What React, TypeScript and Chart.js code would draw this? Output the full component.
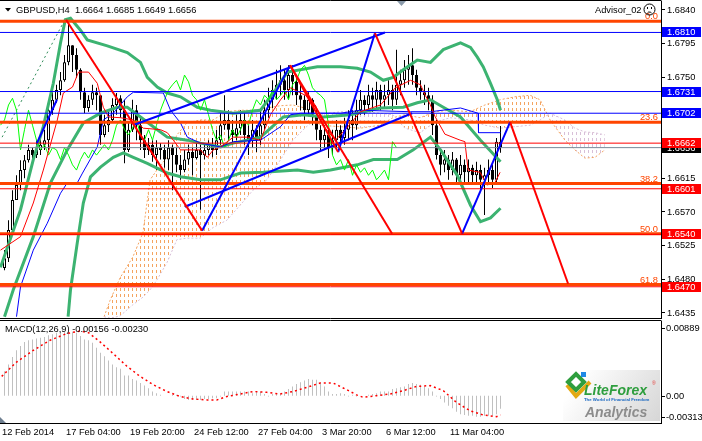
import React, { useEffect, useRef } from "react";
import { Chart, registerables } from "chart.js";

Chart.register(...registerables);

const FONT_FAMILY = '"Liberation Sans", Arial, Helvetica, sans-serif';
const FONT_SIZE = 9.3;
const FONT = `${FONT_SIZE}px ${FONT_FAMILY}`;

// ---------------- H4 candles (bar 0 = 12 Feb 2014) ----------------
const firstOpen = 1.6495;
const closes = [
  1.6508, 1.6546, 1.6586, 1.6606, 1.6626, 1.6639, 1.6653, 1.6646, 1.6653, 1.666,
  1.6666, 1.6706, 1.672, 1.6733, 1.6746, 1.677, 1.6793, 1.678, 1.676, 1.673,
  1.6709, 1.672, 1.673, 1.6726, 1.6673, 1.6686, 1.6693, 1.6713, 1.6722, 1.6706,
  1.6653, 1.668, 1.6706, 1.6686, 1.6666, 1.6653, 1.666, 1.6646, 1.6656, 1.6653,
  1.664, 1.6656, 1.6646, 1.6633, 1.6626, 1.664, 1.665, 1.6642, 1.6653, 1.6646,
  1.6653, 1.666, 1.6653, 1.6666, 1.6686, 1.6693, 1.668, 1.6673, 1.6682, 1.6693,
  1.6673, 1.6666, 1.668, 1.6666, 1.6686, 1.6706, 1.672, 1.6733, 1.674, 1.6746,
  1.6733, 1.6753, 1.6744, 1.6726, 1.672, 1.6706, 1.672, 1.67, 1.668, 1.6666,
  1.6673, 1.6656, 1.6666, 1.668, 1.6669, 1.668, 1.6693, 1.6686, 1.6706, 1.672,
  1.6713, 1.6726, 1.672, 1.6733, 1.672, 1.6726, 1.6733, 1.672, 1.674, 1.6746,
  1.676, 1.6766, 1.6753, 1.6736, 1.673, 1.6726, 1.672, 1.6686, 1.6646, 1.6633,
  1.664, 1.6626, 1.664, 1.6619, 1.6633, 1.6623, 1.6629, 1.6619, 1.6626, 1.6613,
  1.6619, 1.6626, 1.6613, 1.6664, 1.6656,
];
const highs = [
  1.6519, 1.6559, 1.6599, 1.6619, 1.6639, 1.6646, 1.666, 1.6656, 1.6666, 1.6669,
  1.668, 1.6713, 1.673, 1.674, 1.6757, 1.678, 1.6823, 1.6793, 1.6789, 1.6762,
  1.6736, 1.6726, 1.674, 1.6736, 1.6726, 1.67, 1.6704, 1.6722, 1.6729, 1.6726,
  1.672, 1.669, 1.672, 1.6713, 1.6696, 1.6673, 1.6669, 1.6666, 1.6666, 1.6662,
  1.666, 1.6666, 1.666, 1.6656, 1.6646, 1.6653, 1.666, 1.6656, 1.6664, 1.666,
  1.6662, 1.6666, 1.6669, 1.668, 1.6706, 1.6726, 1.6706, 1.6693, 1.67, 1.6706,
  1.6704, 1.6686, 1.6693, 1.6686, 1.6706, 1.672, 1.6736, 1.6746, 1.676, 1.6766,
  1.676, 1.6766, 1.6766, 1.6749, 1.674, 1.6726, 1.673, 1.6722, 1.6709, 1.6686,
  1.6686, 1.668, 1.668, 1.6693, 1.6686, 1.6696, 1.6706, 1.6706, 1.672, 1.6733,
  1.6726, 1.674, 1.6736, 1.6744, 1.674, 1.674, 1.6746, 1.674, 1.6787, 1.676,
  1.6773, 1.678, 1.6789, 1.676, 1.6746, 1.674, 1.6736, 1.6726, 1.6693, 1.6653,
  1.6653, 1.6646, 1.665, 1.6642, 1.6646, 1.664, 1.664, 1.6633, 1.6637, 1.6633,
  1.6629, 1.664, 1.6633, 1.6669, 1.6685,
];
const lows = [
  1.6492, 1.6503, 1.654, 1.6586, 1.6599, 1.6615, 1.6636, 1.6637, 1.6642, 1.6646,
  1.6653, 1.6653, 1.67, 1.6716, 1.6726, 1.6744, 1.6766, 1.6757, 1.6749, 1.672,
  1.6702, 1.6704, 1.6713, 1.6706, 1.666, 1.667, 1.6677, 1.669, 1.67, 1.6696,
  1.6635, 1.665, 1.6677, 1.6666, 1.6653, 1.6642, 1.6646, 1.6637, 1.6626, 1.664,
  1.6629, 1.6626, 1.6599, 1.6623, 1.6613, 1.6623, 1.6633, 1.6619, 1.664, 1.6573,
  1.664, 1.6646, 1.6643, 1.6646, 1.666, 1.668, 1.6666, 1.666, 1.6666, 1.6673,
  1.666, 1.6646, 1.6656, 1.665, 1.666, 1.668, 1.6696, 1.6709, 1.672, 1.6726,
  1.672, 1.672, 1.6726, 1.6713, 1.6706, 1.6693, 1.67, 1.6686, 1.6666, 1.6653,
  1.6653, 1.6642, 1.6646, 1.6653, 1.6653, 1.666, 1.6666, 1.6666, 1.668, 1.67,
  1.67, 1.6706, 1.6704, 1.6709, 1.6706, 1.6709, 1.6713, 1.6706, 1.6713, 1.6726,
  1.6736, 1.674, 1.674, 1.6726, 1.672, 1.6713, 1.6706, 1.6673, 1.664, 1.6619,
  1.6623, 1.6613, 1.6619, 1.661, 1.6613, 1.6606, 1.661, 1.6606, 1.661, 1.6599,
  1.6566, 1.6606, 1.6602, 1.6608, 1.6649,
];

// ---------------- axes ----------------
const priceTicks = [1.6435, 1.648, 1.6525, 1.657, 1.6615, 1.666, 1.6705, 1.675, 1.6795, 1.684];
const dateLabels = ["12 Feb 2014", "17 Feb 04:00", "19 Feb 20:00", "24 Feb 12:00", "27 Feb 04:00", "3 Mar 20:00", "6 Mar 12:00", "11 Mar 04:00"];
const dateLabelBars = [0, 16, 32, 48, 64, 80, 96, 112];

// ---------------- horizontal levels ----------------
const fibRatios = ["0.0", "23.6", "38.2", "50.0", "61.8"];
const fibPrices = [1.6825, 1.669, 1.6608, 1.6541, 1.6473];
const blueLevels = [1.681, 1.6731, 1.6702];
const redLevels = [1.6662, 1.6601, 1.654, 1.647];
const bidPrice = 1.6656;

// ---------------- Bollinger bands [bar, price] ----------------
const bbUpper = [
  [-1, 1.6496], [4, 1.6573], [7.2, 1.664], [9.7, 1.6684], [12.2, 1.6742], [14, 1.6796], [15.2, 1.6827],
  [16.5, 1.6829], [19, 1.6813], [20.7, 1.68], [25.7, 1.6792], [30.7, 1.6783], [34, 1.677], [35.7, 1.675],
  [38.2, 1.6737], [40.7, 1.6729], [44, 1.6724], [48.2, 1.671], [51.5, 1.6706], [57.2, 1.6702], [64, 1.6706],
  [67.7, 1.6733], [70.7, 1.6757], [78.2, 1.6764], [84, 1.6764], [88.2, 1.6762], [91.5, 1.6757], [94.7, 1.6746],
  [97.2, 1.675], [99.7, 1.676], [103.2, 1.6773], [106.5, 1.677], [109.7, 1.6787], [114, 1.6796], [116.5, 1.679],
  [118.2, 1.6777], [119.7, 1.6764], [121.5, 1.6742], [123.2, 1.672], [124, 1.6706],
];
const bbMiddle = [
  [0, 1.643], [2.2, 1.6466], [7.2, 1.6537], [11.5, 1.6609], [15.7, 1.6653], [19.7, 1.6689], [24, 1.6702],
  [28.2, 1.671], [30.7, 1.671], [34, 1.6697], [37.2, 1.6684], [40.7, 1.667], [45.7, 1.6666], [49, 1.6662],
  [54, 1.6657], [57.2, 1.6662], [64, 1.667], [69.7, 1.6697], [74.7, 1.67], [79.7, 1.6697], [86.5, 1.67],
  [94, 1.6709], [99.7, 1.671], [103.2, 1.6716], [106.5, 1.672], [109.7, 1.671], [114, 1.6697], [119, 1.6666],
  [124, 1.6637],
];
const bbLower = [
  [15.9, 1.643], [16.5, 1.6466], [18.2, 1.6529], [19.7, 1.6582], [21.5, 1.6617], [24, 1.663], [27.2, 1.6643],
  [29.7, 1.6649], [32.2, 1.6643], [35.7, 1.6635], [40.7, 1.6622], [44, 1.6617], [49, 1.6613], [54, 1.6613],
  [59, 1.6622], [64.7, 1.6623], [73.2, 1.6626], [77.2, 1.6623], [81.5, 1.6626], [88.2, 1.6633], [92.2, 1.664],
  [98.2, 1.664], [102.2, 1.6653], [106.5, 1.667], [109, 1.6653], [113.2, 1.6619], [116.5, 1.6579], [119, 1.6557],
  [121.5, 1.6562], [124, 1.6575],
];

// ---------------- Ichimoku [bar, price] ----------------
const tenkan = [
  [-1, 1.6519], [4, 1.6537], [7.2, 1.6582], [9.7, 1.6626], [13.2, 1.6693], [14.7, 1.6729], [17, 1.6737],
  [18.5, 1.6757], [21, 1.6757], [23.2, 1.6742], [24.7, 1.671], [26, 1.6697], [29, 1.6696], [32.2, 1.6693],
  [34.7, 1.6682], [39, 1.668], [40.7, 1.6676], [42.2, 1.6666], [44, 1.6653], [49, 1.6653], [50.7, 1.6643],
  [52.2, 1.6653], [54, 1.6657], [57.2, 1.667], [60.7, 1.667], [64, 1.6666], [66.5, 1.67], [69, 1.672],
  [71.5, 1.6736], [75.2, 1.6726], [77.7, 1.6713], [80.2, 1.6682], [82.7, 1.6666], [85.2, 1.668], [89, 1.6704],
  [94, 1.6713], [97.7, 1.6736], [101.5, 1.6746], [104, 1.674], [105.2, 1.6726], [106.4, 1.6714], [107.6, 1.6698],
  [110.1, 1.6674], [113.9, 1.6666], [115.1, 1.6664], [115.9, 1.6626], [118.9, 1.6623], [120.6, 1.6606],
  [122.6, 1.6609], [123.9, 1.6623],
];
const kijun = [
  [3, 1.643], [4, 1.647], [7.2, 1.6519], [10.7, 1.6555], [14, 1.6595], [15.7, 1.6609], [18.2, 1.6609],
  [19.5, 1.6622], [23.2, 1.6657], [24.7, 1.6693], [27.2, 1.6702], [30.7, 1.6724], [32.2, 1.673], [39.7, 1.6729],
  [41.5, 1.6706], [44, 1.6689], [45.7, 1.667], [49, 1.6662], [54, 1.6657], [57.2, 1.6664], [64, 1.6666],
  [69, 1.6684], [71.5, 1.67], [74, 1.6702], [84, 1.6702], [89, 1.6706], [101.5, 1.6704], [106.5, 1.6704],
  [114, 1.6709], [118.4, 1.6702], [118.5, 1.6676], [124, 1.6676],
];
const chikouShift = 26;
const senkouA = [
  [24.9, 1.643], [26.4, 1.6452], [28.9, 1.6482], [32.1, 1.651], [34.6, 1.6542], [36.4, 1.6613], [38.1, 1.6626],
  [40.6, 1.6643], [43.1, 1.6673], [45.6, 1.6689], [48.9, 1.6693], [52.1, 1.6693], [55.6, 1.6704], [58.9, 1.6706],
  [62.1, 1.6706], [65.6, 1.6709], [68.9, 1.6712], [72.1, 1.6713], [75.1, 1.6709], [78.9, 1.6686], [83.9, 1.6684],
  [88.9, 1.6682], [93.9, 1.6686], [97.1, 1.6696], [100.1, 1.67], [103.9, 1.6696], [107.6, 1.6704], [111.4, 1.6706],
  [116.4, 1.6704], [120.1, 1.6713], [123.9, 1.672], [127.6, 1.6724], [131.4, 1.6726], [133.9, 1.672],
  [136.4, 1.6693], [140.1, 1.6666], [142.6, 1.6653], [145.1, 1.6642], [147.6, 1.6643], [150.1, 1.6653],
];
const senkouB = [
  [24.9, 1.643], [26.4, 1.6428], [28.9, 1.6431], [32.1, 1.6446], [34.6, 1.6456], [36.4, 1.6466], [38.1, 1.6479],
  [40.6, 1.6502], [43.1, 1.6533], [45.6, 1.6535], [48.9, 1.6535], [52.1, 1.6549], [55.6, 1.6559], [58.9, 1.6579],
  [62.1, 1.6599], [65.6, 1.6613], [68.9, 1.6639], [72.1, 1.6666], [75.1, 1.6682], [78.9, 1.67], [83.9, 1.6704],
  [88.9, 1.6704], [93.9, 1.6702], [97.1, 1.67], [100.1, 1.6682], [103.9, 1.6676], [107.6, 1.669], [111.4, 1.6696],
  [116.4, 1.6693], [120.1, 1.6686], [123.9, 1.6682], [127.6, 1.6684], [131.4, 1.6686], [133.9, 1.6693],
  [136.4, 1.6702], [140.1, 1.6693], [142.6, 1.6682], [145.1, 1.6677], [147.6, 1.6676], [150.1, 1.6673],
];

// ---------------- drawn objects [bar, price] ----------------
const redTrendLines = [
  [[15.4, 1.6827], [49.4, 1.6545]],
  [[71.4, 1.6766], [83.4, 1.665]],
  [[71.4, 1.6766], [96.9, 1.6541]],
  [[92.6, 1.6809], [114.4, 1.6541]],
  [[126.4, 1.669], [140.9, 1.6474]],
];
const blueTrendLines = [
  [[49.4, 1.6545], [71.4, 1.6766]],
  [[83.4, 1.665], [92.6, 1.6809]],
  [[114.4, 1.6541], [126.4, 1.669]],
  [[32.1, 1.6686], [95.1, 1.681]],
  [[45.1, 1.6577], [101.9, 1.6702]],
  [[8.1, 1.6662], [13.1, 1.672]],
];
const dottedTrend = [[-0.6, 1.667], [15.1, 1.6827]];

// ---------------- MACD(12,26,9) ----------------
const macdHist = [
  0.0029, 0.0037, 0.0046, 0.0054, 0.0059, 0.0064, 0.0066, 0.0067, 0.0068, 0.0069,
  0.007, 0.0072, 0.0073, 0.0075, 0.0076, 0.0076, 0.0076, 0.0076, 0.0075, 0.0071,
  0.0067, 0.0066, 0.0063, 0.0057, 0.0051, 0.0047, 0.0042, 0.0037, 0.0034, 0.0032,
  0.0024, 0.0024, 0.002, 0.0018, 0.0015, 0.0012, 0.0009, 0.0005, 0.0003, 0.0001,
  0, 0, 0.0001, 0.0001, -0.0001, -0.0004, -0.0005, -0.0005, -0.0005, -0.0005,
  -0.0004, -0.0004, -0.0003, -0.0003, -0.0001, 0.0005, 0.0005, 0.0005, 0.0005, 0.0005,
  0.0005, 0.0005, 0.0003, 0.0005, 0.0005, 0.0002, -0.0001, 0.0002, 0.0003, 0.0003,
  0.0005, 0.0008, 0.0011, 0.0014, 0.0016, 0.0018, 0.002, 0.0019, 0.0019, 0.0016,
  0.0011, 0.0005, 0.0002, 0.0002, 0.0003, 0.0002, -0.0001, 0.0001, -0.0001, 0,
  0, 0.0001, 0.0002, 0.0003, 0.0005, 0.0005, 0.0005, 0.0008, 0.0009, 0.001,
  0.0011, 0.0014, 0.0015, 0.0014, 0.0013, 0.0011, 0.0009, 0.0005, -0.0001, -0.0004,
  -0.0008, -0.0012, -0.0015, -0.0019, -0.0022, -0.0023, -0.0024, -0.0024, -0.0025, -0.0025,
  -0.0024, -0.0024, -0.0024, -0.0022, -0.00156,
];
const macdSignal = [
  [-0.7, 0.0023], [3, 0.004], [7.2, 0.0054], [11.4, 0.0066], [15.6, 0.0074], [18.9, 0.0077], [21, 0.0075],
  [23.9, 0.0064], [27.2, 0.005], [30.6, 0.0035], [33.9, 0.0023], [37.2, 0.0013], [40.6, 0.0005], [43.9, -0.0001],
  [47.2, -0.0004], [50.6, -0.0005], [53.1, -0.0005], [55.6, -0.0001], [58.9, 0.0002], [62.2, 0.0005],
  [65.6, 0.0004], [68.9, 0.0002], [72.2, 0.0005], [75.6, 0.001], [78.9, 0.0015], [82.2, 0.0015], [85.6, 0.0007],
  [88, 0.0001], [89.7, -0.0002], [93, 0], [96.4, 0.0002], [99.7, 0.0006], [103, 0.0011], [106.4, 0.0012],
  [109.7, 0.0006], [113, -0.0008], [116.4, -0.0018], [119.7, -0.0023], [123, -0.0025], [124, -0.0023],
];
const macdAxisLabels = ["0.00889", "0.00", "-0.00313"];
const macdAxisValues = [0.00889, 0, -0.00313];

// ---------------- visible windows ----------------
const XMIN = -1.125;
const XMAX = 164.125;
const PMIN = 1.642824;
const PMAX = 1.685203;
const MMIN = -0.00325;
const MMAX = 0.00889;

const pts = (arr: number[][]) => arr.map(([x, y]) => ({ x, y }));
const lineDs = (data: any[], color: string, width: number, order: number, extra: any = {}) => ({
  type: "line",
  data,
  borderColor: color,
  borderWidth: width,
  pointRadius: 0,
  pointHoverRadius: 0,
  fill: false,
  tension: 0,
  order,
  ...extra,
});
const hline = (p: number) => [{ x: XMIN, y: p }, { x: XMAX, y: p }];

export default function App() {
  const mainRef = useRef<HTMLCanvasElement | null>(null);
  const macdRef = useRef<HTMLCanvasElement | null>(null);

  useEffect(() => {
    document.body.style.margin = "0";
    const mainCanvas = mainRef.current!;
    const macdCanvas = macdRef.current!;
    const mctx = mainCanvas.getContext("2d")!;
    const hatch = (color: string) => {
      const c = document.createElement("canvas");
      c.width = 4;
      c.height = 6;
      const g = c.getContext("2d")!;
      g.fillStyle = color;
      g.fillRect(0, 0, 1, 3);
      return mctx.createPattern(c, "repeat");
    };
    const hatchA = hatch("#F4A460");
    const hatchB = hatch("#D8BFD8");

    const opens = closes.map((_, i) => (i === 0 ? firstOpen : closes[i - 1]));

    const datasets: any[] = [
      lineDs(pts(senkouA), "#F4A460", 1, 100, { borderDash: [2, 2], fill: { target: 1, above: hatchA, below: hatchB } }),
      lineDs(pts(senkouB), "#D8BFD8", 1, 99, { borderDash: [2, 2] }),
      {
        type: "bar",
        data: closes.map((_, i) => ({ x: i, y: [lows[i], highs[i]] })),
        backgroundColor: "#000",
        barThickness: 1,
        grouped: false,
        inflateAmount: 0,
        order: 90,
      },
      {
        type: "bar",
        data: closes.map((c, i) => ({ x: i, y: [opens[i], c] })),
        backgroundColor: closes.map((c, i) => (c >= opens[i] ? "#FFFFFF" : "#000000")),
        borderColor: "#000",
        borderWidth: 1,
        borderSkipped: false,
        barThickness: 3,
        minBarLength: 1,
        grouped: false,
        inflateAmount: 0,
        order: 89,
      },
      lineDs(pts(bbUpper), "#3CB371", 3, 60),
      lineDs(pts(bbMiddle), "#3CB371", 3, 60),
      lineDs(pts(bbLower), "#3CB371", 3, 60),
      lineDs(pts(tenkan), "#FF0000", 1, 50),
      lineDs(pts(kijun), "#0000FF", 1, 50),
      lineDs(closes.slice(chikouShift - 1).map((c, k) => ({ x: k - 1, y: c })), "#00FF00", 1, 50),
      lineDs(pts(dottedTrend), "#2E8B57", 1, 50, { borderDash: [2, 3] }),
    ];
    fibPrices.forEach((p) => datasets.push(lineDs(hline(p), "#FF4500", 3, 20)));
    blueLevels.forEach((p) => datasets.push(lineDs(hline(p), "#0000FF", 1, 19)));
    redLevels.forEach((p) => datasets.push(lineDs(hline(p), "#FF0000", 1, 19)));
    datasets.push(lineDs(hline(bidPrice), "#778899", 1, 19));
    redTrendLines.forEach((l) => datasets.push(lineDs(pts(l), "#FF0000", 2, 10)));
    blueTrendLines.forEach((l) => datasets.push(lineDs(pts(l), "#0000FF", 2, 10)));

    const mainOverlay = {
      id: "mainOverlay",
      afterDraw(chart: any) {
        const ctx = chart.ctx;
        const a = chart.chartArea;
        const ys = chart.scales.y;
        ctx.save();
        ctx.lineWidth = 1;
        ctx.strokeStyle = "#000";
        ctx.beginPath();
        ctx.moveTo(0, 0.5);
        ctx.lineTo(a.right + 0.5, 0.5);
        ctx.moveTo(0, a.bottom + 0.5);
        ctx.lineTo(a.right + 0.5, a.bottom + 0.5);
        ctx.stroke();
        // shift marker
        ctx.fillStyle = "#8A9AAA";
        ctx.beginPath();
        ctx.moveTo(397, 1);
        ctx.lineTo(406, 1);
        ctx.lineTo(401.5, 6);
        ctx.closePath();
        ctx.fill();
        // price tags
        ctx.font = FONT;
        ctx.textBaseline = "middle";
        ctx.textAlign = "left";
        const tag = (p: number, bg: string) => {
          const y = Math.round(ys.getPixelForValue(p));
          ctx.fillStyle = bg;
          ctx.fillRect(a.right + 1, y - 5, 39, 10);
          ctx.fillStyle = "#FFFFFF";
          ctx.fillText(p.toFixed(4), a.right + 6, y);
        };
        tag(bidPrice, "#000000");
        blueLevels.forEach((p) => tag(p, "#0000FF"));
        redLevels.forEach((p) => tag(p, "#FF0000"));
        // fibo labels
        ctx.fillStyle = "#FF4500";
        ctx.textAlign = "right";
        ctx.textBaseline = "alphabetic";
        fibPrices.forEach((p, k) => ctx.fillText(fibRatios[k], a.right - 3, ys.getPixelForValue(p) - 2));
        // header
        ctx.fillStyle = "#000";
        ctx.beginPath();
        ctx.moveTo(5, 8);
        ctx.lineTo(11, 8);
        ctx.lineTo(8, 11.5);
        ctx.closePath();
        ctx.fill();
        ctx.textAlign = "left";
        ctx.textBaseline = "middle";
        ctx.fillText("GBPUSD,H4  1.6664 1.6685 1.6649 1.6656", 16, 10);
        ctx.fillText("Advisor_02", 595, 10);
        // smiley
        ctx.strokeStyle = "#000";
        ctx.beginPath();
        ctx.arc(649.5, 9.5, 5.5, 0, Math.PI * 2);
        ctx.stroke();
        ctx.fillRect(647, 7, 1, 2);
        ctx.fillRect(651, 7, 1, 2);
        ctx.beginPath();
        ctx.arc(649.5, 14.5, 2.5, Math.PI * 1.15, Math.PI * 1.85);
        ctx.stroke();
        ctx.restore();
      },
    };

    const mainChart = new Chart(mainCanvas, {
      type: "line",
      data: { datasets },
      options: {
        responsive: false,
        animation: false,
        devicePixelRatio: 1,
        events: [],
        layout: { padding: { top: 1, bottom: 1, left: 0, right: 0 } },
        plugins: { legend: { display: false }, tooltip: { enabled: false }, filler: { propagate: false } },
        scales: {
          x: { type: "linear", min: XMIN, max: XMAX, display: false, offset: false, grid: { offset: false } },
          y: {
            type: "linear",
            position: "right",
            min: PMIN,
            max: PMAX,
            afterFit: (s: any) => {
              s.width = 41;
              s.paddingTop = 0;
              s.paddingBottom = 0;
            },
            afterBuildTicks: (s: any) => {
              s.ticks = priceTicks.map((v) => ({ value: v }));
            },
            ticks: {
              autoSkip: false,
              padding: 2,
              color: "#000",
              font: { family: FONT_FAMILY, size: FONT_SIZE },
              callback: (v: any) => Number(v).toFixed(4),
            },
            grid: { drawOnChartArea: false, drawTicks: true, tickLength: 4, color: "#000" },
            border: { display: true, color: "#000" },
          },
        },
      } as any,
      plugins: [mainOverlay],
    } as any);

    const macdOverlay = {
      id: "macdOverlay",
      afterDraw(chart: any) {
        const ctx = chart.ctx;
        const a = chart.chartArea;
        const ys = chart.scales.y;
        ctx.save();
        ctx.strokeStyle = "#000";
        ctx.lineWidth = 1;
        ctx.beginPath();
        ctx.moveTo(0, a.top - 0.5);
        ctx.lineTo(a.right + 0.5, a.top - 0.5);
        ctx.moveTo(0, a.bottom + 0.5);
        ctx.lineTo(a.right + 0.5, a.bottom + 0.5);
        ctx.stroke();
        ctx.font = FONT;
        ctx.fillStyle = "#000";
        ctx.textAlign = "left";
        ctx.textBaseline = "middle";
        const offs = [7, 0, -5];
        macdAxisValues.forEach((v, k) => {
          const y = Math.round(ys.getPixelForValue(v) + offs[k]);
          ctx.beginPath();
          ctx.moveTo(a.right, y + 0.5);
          ctx.lineTo(a.right + 4, y + 0.5);
          ctx.stroke();
          ctx.fillText(macdAxisLabels[k], a.right + 5, y + 0.5);
        });
        ctx.fillText("MACD(12,26,9) -0.00156 -0.00230", 5, a.top + 8);
        // corner marker
        ctx.fillStyle = "#6E7F90";
        ctx.beginPath();
        ctx.moveTo(0, a.bottom - 6);
        ctx.lineTo(6, a.bottom);
        ctx.lineTo(0, a.bottom);
        ctx.closePath();
        ctx.fill();
        // logo
        const lx = 563;
        const ly = a.top + 49;
        const grd = ctx.createLinearGradient(lx + 20, ly, lx + 97, ly + 51);
        grd.addColorStop(0, "#FFFFFF");
        grd.addColorStop(1, "#D6D6D6");
        ctx.fillStyle = grd;
        ctx.fillRect(lx, ly, 97, 51);
        ctx.lineJoin = "miter";
        ctx.lineWidth = 4;
        ctx.strokeStyle = "#E3A912";
        ctx.beginPath();
        ctx.moveTo(lx + 4, ly + 15);
        ctx.lineTo(lx + 13, ly + 26);
        ctx.lineTo(lx + 27, ly + 12);
        ctx.stroke();
        ctx.strokeStyle = "#2E9E3E";
        ctx.beginPath();
        ctx.moveTo(lx + 5, ly + 12);
        ctx.lineTo(lx + 13, ly + 4);
        ctx.lineTo(lx + 21, ly + 12);
        ctx.lineTo(lx + 13, ly + 20);
        ctx.closePath();
        ctx.stroke();
        ctx.fillStyle = "#1E88E5";
        ctx.fillRect(lx + 18, ly + 2, 5, 5);
        ctx.textBaseline = "alphabetic";
        ctx.font = `italic bold 14px ${FONT_FAMILY}`;
        ctx.fillStyle = "#2E9E3E";
        ctx.fillText("LiteForex", lx + 21, ly + 25);
        ctx.fillStyle = "#E53935";
        ctx.font = `5px ${FONT_FAMILY}`;
        ctx.fillText("®", lx + 89, ly + 15);
        ctx.fillStyle = "#1565C0";
        ctx.font = `bold 4.3px ${FONT_FAMILY}`;
        ctx.fillText("The World of Financial Freedom", lx + 21, ly + 31);
        ctx.fillStyle = "#8C8C8C";
        ctx.font = `italic bold 14px ${FONT_FAMILY}`;
        ctx.fillText("Analytics", lx + 22, ly + 47);
        ctx.restore();
      },
    };

    const macdChart = new Chart(macdCanvas, {
      type: "line",
      data: {
        datasets: [
          {
            type: "bar",
            data: macdHist.map((v, i) => ({ x: i, y: v })),
            backgroundColor: "#C0C0C0",
            barThickness: 1,
            grouped: false,
            inflateAmount: 0,
            order: 2,
          },
          lineDs(pts(macdSignal), "#FF0000", 1.5, 1, { borderDash: [2, 3] }),
        ],
      },
      options: {
        responsive: false,
        animation: false,
        devicePixelRatio: 1,
        events: [],
        layout: { padding: { top: 2, bottom: 0, left: 0, right: 0 } },
        plugins: { legend: { display: false }, tooltip: { enabled: false } },
        scales: {
          x: {
            type: "linear",
            min: XMIN,
            max: XMAX,
            offset: false,
            afterFit: (s: any) => {
              s.height = 18;
              s.paddingLeft = 0;
              s.paddingRight = 0;
            },
            afterBuildTicks: (s: any) => {
              s.ticks = dateLabelBars.map((b) => ({ value: b - 0.625 }));
            },
            ticks: {
              autoSkip: false,
              maxRotation: 0,
              minRotation: 0,
              align: "start",
              padding: 4,
              color: "#000",
              font: { family: FONT_FAMILY, size: FONT_SIZE },
              callback: (_v: any, i: number) => dateLabels[i],
            },
            grid: { display: false, drawTicks: false, offset: false },
            border: { display: false },
          },
          y: {
            type: "linear",
            position: "right",
            min: MMIN,
            max: MMAX,
            afterFit: (s: any) => {
              s.width = 41;
              s.paddingTop = 0;
              s.paddingBottom = 0;
            },
            ticks: { display: false },
            grid: { display: false, drawTicks: false },
            border: { display: true, color: "#000" },
          },
        },
      } as any,
      plugins: [macdOverlay],
    } as any);

    return () => {
      mainChart.destroy();
      macdChart.destroy();
    };
  }, []);

  return (
    <div style={{ position: "relative", width: 702, height: 441, background: "#FFFFFF", overflow: "hidden" }}>
      <canvas ref={mainRef} width={702} height={319} style={{ position: "absolute", left: 0, top: 0, width: 702, height: 319 }} />
      <canvas ref={macdRef} width={702} height={122} style={{ position: "absolute", left: 0, top: 319, width: 702, height: 122 }} />
    </div>
  );
}
